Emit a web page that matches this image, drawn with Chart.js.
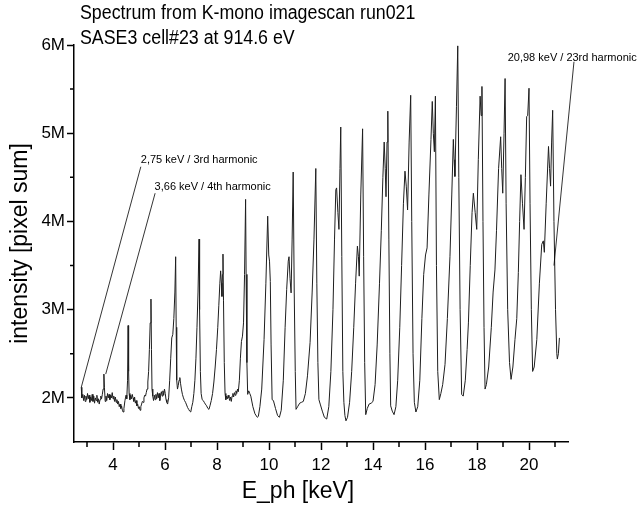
<!DOCTYPE html>
<html>
<head>
<meta charset="utf-8">
<script src="https://cdn.jsdelivr.net/npm/chart.js@4.4.0/dist/chart.umd.min.js"></script>
<style>
  html, body { margin: 0; padding: 0; background: #fff; }
</style>
</head>
<body>
<canvas id="spectrum_chart" width="640" height="505"></canvas>
<script>
// spectrum: [photon energy in keV, intensity in millions of pixel sum]
const spectrum = [
    [2.78,2.12],[2.80,2.00],[2.84,2.04],[2.87,1.97],[2.90,2.03],[2.93,1.96],[2.96,2.02],[2.99,1.98],
    [3.02,2.05],[3.05,1.99],[3.08,2.03],[3.11,1.95],[3.14,2.01],[3.17,1.97],[3.20,2.04],[3.23,1.96],
    [3.26,2.02],[3.29,1.94],[3.32,2.00],[3.35,1.97],[3.38,2.03],[3.41,1.95],[3.44,1.99],[3.47,1.93],
    [3.50,1.98],[3.53,2.02],[3.56,1.99],[3.59,2.04],[3.62,2.10],[3.65,2.27],[3.67,2.12],[3.70,1.96],
    [3.73,2.02],[3.76,1.97],[3.79,2.05],[3.82,2.00],[3.85,2.04],[3.88,1.98],[3.91,2.03],[3.94,2.00],
    [3.97,2.06],[4.00,1.99],[4.03,2.02],[4.06,1.96],[4.09,2.01],[4.12,1.95],[4.15,1.98],[4.18,1.93],
    [4.21,1.96],[4.24,1.90],[4.27,1.93],[4.30,1.88],[4.33,1.91],[4.36,1.86],[4.39,1.84],[4.42,1.88],
    [4.46,1.97],[4.50,2.03],[4.53,1.99],[4.56,2.20],[4.58,2.82],[4.60,2.30],[4.62,2.05],[4.65,1.98],
    [4.68,2.03],[4.71,1.99],[4.74,2.04],[4.77,2.00],[4.80,1.96],[4.83,2.01],[4.86,1.94],[4.89,1.97],
    [4.92,1.91],[4.95,1.93],[4.98,1.88],[5.01,1.90],[5.04,1.86],[5.07,1.90],[5.10,1.93],[5.13,1.96],
    [5.16,1.95],[5.19,2.00],[5.22,2.03],[5.25,2.02],[5.28,2.06],[5.31,2.10],[5.34,2.18],[5.37,2.30],
    [5.40,2.55],[5.43,2.85],[5.46,3.12],[5.48,2.55],[5.50,2.10],[5.53,2.02],[5.56,1.97],[5.59,2.03],
    [5.62,1.98],[5.65,2.04],[5.68,1.99],[5.71,2.06],[5.74,2.00],[5.77,2.05],[5.80,1.97],[5.83,2.03],
    [5.86,2.07],[5.89,2.02],[5.92,2.08],[5.95,2.03],[5.98,2.10],[6.01,2.05],[6.04,1.98],[6.07,1.95],
    [6.10,1.93],[6.14,2.00],[6.18,2.20],[6.22,2.45],[6.26,2.68],[6.30,2.72],[6.34,2.90],[6.38,3.20],
    [6.41,3.60],[6.43,2.80],[6.45,2.20],[6.48,2.10],[6.51,2.14],[6.54,2.20],[6.57,2.23],[6.60,2.16],
    [6.63,2.10],[6.67,2.04],[6.71,2.00],[6.75,1.97],[6.79,1.95],[6.83,1.92],[6.87,1.89],[6.91,1.87],
    [6.95,1.85],[6.99,1.84],[7.03,1.90],[7.07,1.95],[7.11,2.05],[7.15,2.20],[7.19,2.45],[7.23,2.80],
    [7.27,3.20],[7.31,3.80],[7.33,3.00],[7.36,2.30],[7.39,2.05],[7.43,1.98],[7.47,1.97],[7.51,1.95],
    [7.55,1.93],[7.60,1.91],[7.65,1.88],[7.69,1.87],[7.73,1.91],[7.78,1.97],[7.83,2.05],[7.88,2.18],
    [7.93,2.35],[7.98,2.55],[8.03,2.80],[8.07,3.05],[8.11,3.30],[8.14,3.44],[8.17,3.30],[8.19,3.15],
    [8.21,3.40],[8.23,3.63],[8.25,3.10],[8.28,2.40],[8.31,2.05],[8.34,1.98],[8.37,2.02],[8.40,1.99],
    [8.43,2.03],[8.46,2.00],[8.49,1.97],[8.52,2.01],[8.55,1.96],[8.58,2.02],[8.61,2.05],[8.64,2.01],
    [8.67,2.06],[8.70,2.03],[8.73,2.08],[8.76,2.05],[8.79,2.10],[8.82,2.07],[8.86,2.20],[8.90,2.45],
    [8.94,2.64],[8.98,2.70],[9.02,2.85],[9.06,3.40],[9.10,4.25],[9.12,3.40],[9.15,2.40],[9.18,2.04],
    [9.22,2.08],[9.26,2.05],[9.30,2.02],[9.38,1.90],[9.46,1.82],[9.55,1.78],[9.59,1.79],[9.65,1.90],
    [9.72,2.10],[9.81,2.66],[9.88,3.30],[9.95,4.06],[9.99,3.62],[10.02,3.55],[10.05,3.32],[10.08,2.60],
    [10.12,1.98],[10.17,1.97],[10.25,1.88],[10.33,1.80],[10.40,1.78],[10.47,1.86],[10.55,2.20],[10.62,2.80],
    [10.68,3.23],[10.74,3.55],[10.77,3.60],[10.81,3.35],[10.85,3.19],[10.89,3.80],[10.93,4.56],[10.97,3.20],
    [11.01,2.30],[11.04,1.87],[11.10,1.90],[11.18,1.94],[11.25,1.95],[11.32,1.96],[11.40,2.05],[11.48,2.25],
    [11.58,2.63],[11.66,3.20],[11.73,3.80],[11.80,4.60],[11.84,3.30],[11.88,2.40],[11.92,1.98],[11.98,1.92],
    [12.05,1.85],[12.13,1.78],[12.22,1.76],[12.30,1.90],[12.38,2.30],[12.46,3.00],[12.52,3.80],[12.57,4.36],
    [12.60,4.38],[12.65,4.10],[12.69,3.91],[12.73,4.60],[12.76,5.07],[12.80,3.60],[12.84,2.30],[12.88,1.95],
    [12.92,1.80],[12.96,1.74],[13.02,1.78],[13.10,1.95],[13.18,2.30],[13.26,2.80],[13.33,3.30],[13.40,3.72],
    [13.44,3.60],[13.47,3.38],[13.53,4.30],[13.60,5.05],[13.64,3.60],[13.68,2.40],[13.72,1.81],[13.78,1.88],
    [13.85,1.93],[13.93,1.94],[14.00,1.96],[14.08,2.15],[14.16,2.60],[14.25,3.30],[14.32,3.90],[14.38,4.50],
    [14.43,4.90],[14.47,4.60],[14.50,4.28],[14.54,4.90],[14.57,5.25],[14.61,3.80],[14.65,2.50],[14.68,1.91],
    [14.74,1.85],[14.81,1.81],[14.88,1.90],[14.95,2.20],[15.03,2.80],[15.10,3.50],[15.17,4.20],[15.23,4.57],
    [15.28,4.40],[15.33,4.13],[15.39,4.90],[15.45,5.43],[15.49,4.00],[15.54,2.50],[15.59,1.95],[15.65,1.84],
    [15.72,1.90],[15.80,2.20],[15.88,2.90],[15.95,3.40],[16.02,3.62],[16.08,3.70],[16.15,4.30],[16.23,4.93],
    [16.28,5.36],[16.32,5.00],[16.36,4.79],[16.40,5.42],[16.44,3.50],[16.49,2.30],[16.55,1.98],[16.61,2.05],
    [16.68,2.15],[16.77,2.38],[16.86,2.90],[16.96,3.60],[17.03,4.30],[17.09,4.93],[17.12,4.70],[17.15,4.51],
    [17.21,5.30],[17.26,5.99],[17.30,4.50],[17.35,3.00],[17.41,2.04],[17.47,2.02],[17.55,2.20],[17.62,2.55],
    [17.67,2.85],[17.74,3.50],[17.81,4.10],[17.86,4.32],[17.93,4.10],[17.99,3.91],[18.05,4.70],[18.12,5.42],
    [18.16,5.20],[18.19,5.53],[18.23,4.00],[18.27,2.80],[18.31,2.10],[18.36,2.15],[18.45,2.35],[18.55,2.80],
    [18.62,3.20],[18.69,3.45],[18.75,3.90],[18.83,4.60],[18.91,4.96],[18.95,4.60],[18.99,4.32],[19.04,5.00],
    [19.08,5.62],[19.12,4.20],[19.18,3.00],[19.25,2.40],[19.31,2.21],[19.38,2.35],[19.46,2.66],[19.53,2.90],
    [19.59,3.42],[19.64,4.00],[19.69,4.53],[19.75,4.20],[19.81,3.91],[19.86,4.50],[19.91,5.19],[19.95,5.20],
    [20.00,5.51],[20.04,4.20],[20.09,3.00],[20.14,2.30],[20.20,2.35],[20.30,2.66],[20.40,3.30],[20.49,3.74],
    [20.55,3.78],[20.59,3.65],[20.66,4.20],[20.75,4.85],[20.79,4.60],[20.83,4.40],[20.87,4.90],[20.91,5.26],
    [20.96,4.00],[21.02,3.00],[21.07,2.50],[21.09,2.44],[21.13,2.50],[21.17,2.68]
]

const xMajorTicks = [4, 6, 8, 10, 12, 14, 16, 18, 20]
const xMinorTicks = [3, 5, 7, 9, 11, 13, 15, 17, 19, 21]
const yMajorTicks = [2, 3, 4, 5, 6]
const yMinorTicks = [2.5, 3.5, 4.5, 5.5]

// harmonic callouts: line from the curve (tip) up to the text, all in data units
const calloutLabels = ["2,75 keV / 3rd harmonic", "3,66 keV / 4th harmonic", "20,98 keV / 23rd harmonic"]
const calloutTip = [[2.78, 2.12], [3.72, 2.27], [20.96, 3.50]]
const calloutEnd = [[5.07, 4.62], [5.62, 4.32], [21.73, 5.81]]
const calloutText = [[5.07, 4.70], [5.60, 4.39], [19.18, 5.85]]

const chartTitle = ["Spectrum from K-mono imagescan run021", "SASE3 cell#23 at 914.6 eV"]
const xTitle = "E_ph [keV]"
const yTitle = "intensity [pixel sum]"

const FONT = '"Liberation Sans", Arial, sans-serif'

const extrasPlugin = {
    id: 'extras',
    afterDraw(chart) {
        const ctx = chart.ctx
        const xs = chart.scales.x
        const ys = chart.scales.y
        const area = chart.chartArea
        ctx.save()

        // minor ticks, shorter than the library's major ones
        ctx.strokeStyle = '#000'
        ctx.lineWidth = 1.5
        ctx.beginPath()
        xMinorTicks.forEach(v => {
            let px = xs.getPixelForValue(v)
            ctx.moveTo(px, area.bottom)
            ctx.lineTo(px, area.bottom + 5)
        })
        yMinorTicks.forEach(v => {
            let py = ys.getPixelForValue(v)
            ctx.moveTo(area.left, py)
            ctx.lineTo(area.left - 4, py)
        })
        ctx.stroke()

        // callouts
        ctx.lineWidth = 0.8
        ctx.font = '11px ' + FONT
        ctx.fillStyle = '#000'
        ctx.textAlign = 'left'
        ctx.textBaseline = 'middle'
        for (let i = 0; i < calloutLabels.length; i++) {
            ctx.beginPath()
            ctx.moveTo(xs.getPixelForValue(calloutTip[i][0]), ys.getPixelForValue(calloutTip[i][1]))
            ctx.lineTo(xs.getPixelForValue(calloutEnd[i][0]), ys.getPixelForValue(calloutEnd[i][1]))
            ctx.stroke()
            ctx.fillText(calloutLabels[i], xs.getPixelForValue(calloutText[i][0]), ys.getPixelForValue(calloutText[i][1]))
        }

        // titles (the original title font is a bit narrow)
        ctx.save()
        ctx.translate(80, 0)
        ctx.scale(0.89, 1)
        ctx.font = '20px ' + FONT
        ctx.fillText(chartTitle[0], 0, 13)
        ctx.fillText(chartTitle[1], 0, 38)
        ctx.restore()

        ctx.textAlign = 'center'
        ctx.font = '23px ' + FONT
        ctx.fillText(xTitle, 298, 492)

        ctx.translate(21, (area.top + area.bottom) / 2)
        ctx.rotate(-Math.PI / 2)
        ctx.fillText(yTitle, 0, 0)
        ctx.restore()
    }
}

const config = {
    type: 'line',
    data: {
        datasets: [{
            data: spectrum.map(p => ({ x: p[0], y: p[1] })),
            borderColor: '#1e1e1e',
            borderWidth: 1,
            pointRadius: 0,
            tension: 0,
            fill: false
        }]
    },
    options: {
        responsive: false,
        animation: false,
        devicePixelRatio: 1,
        layout: { padding: { left: 0, top: 45, right: 72, bottom: 0 } },
        plugins: { legend: { display: false }, tooltip: { enabled: false }, title: { display: false } },
        scales: {
            x: {
                type: 'linear',
                min: 2.5,
                max: 21.5,
                afterBuildTicks(scale) { scale.ticks = xMajorTicks.map(v => ({ value: v })) },
                ticks: {
                    autoSkip: false,
                    maxRotation: 0,
                    padding: 5,
                    color: '#000',
                    font: { family: FONT, size: 17 },
                    callback: v => String(v)
                },
                grid: {
                    drawOnChartArea: false,
                    tickLength: 8,
                    tickWidth: 1.5,
                    tickColor: '#000'
                },
                border: { color: '#000', width: 1.5 },
                afterFit(scale) { scale.height = 63 }
            },
            y: {
                min: 1.5,
                max: 6,
                afterBuildTicks(scale) { scale.ticks = yMajorTicks.map(v => ({ value: v })) },
                ticks: {
                    autoSkip: false,
                    padding: 2,
                    color: '#000',
                    font: { family: FONT, size: 17 },
                    callback: v => v + 'M'
                },
                grid: {
                    drawOnChartArea: false,
                    tickLength: 7,
                    tickWidth: 1.5,
                    tickColor: '#000'
                },
                border: { color: '#000', width: 1.5 },
                afterFit(scale) { scale.width = 74 }
            }
        }
    },
    plugins: [extrasPlugin]
}

const myChart = new Chart(document.getElementById('spectrum_chart'), config)
</script>
</body>
</html>
